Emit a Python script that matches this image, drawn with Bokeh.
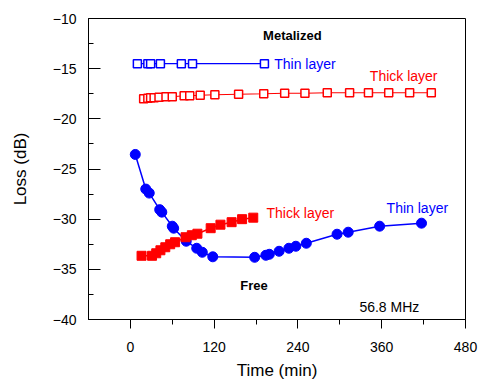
from bokeh.plotting import figure
from bokeh.models import Range1d, FixedTicker, Label
from bokeh.embed import file_html
from bokeh.resources import INLINE

# ---- data ----
met_thin_t = [10, 25, 29, 43, 73, 89, 192]
met_thin_v = [-14.5, -14.5, -14.5, -14.5, -14.5, -14.5, -14.5]

met_thick_t = [19, 25, 29, 34, 41, 51, 60, 77, 85, 100, 121, 155, 191,
               221, 250, 282, 314, 341, 370, 400, 431]
met_thick_v = [-18.0, -17.95, -17.9, -17.9, -17.85, -17.8, -17.8, -17.7, -17.7,
               -17.65, -17.6, -17.55, -17.5, -17.45, -17.45, -17.4, -17.4,
               -17.4, -17.4, -17.4, -17.4]

free_thin_t = [7, 22, 27, 42, 45, 60, 62, 80, 95, 103, 118, 178, 194, 199,
               213, 227, 237, 252, 296, 312, 357, 417]
free_thin_v = [-23.55, -27.0, -27.4, -29.05, -29.3, -30.7, -30.9, -32.2, -32.9,
               -33.3, -33.75, -33.8, -33.6, -33.5, -33.2, -32.9, -32.7, -32.4,
               -31.5, -31.3, -30.7, -30.4]

free_thick_t = [16, 31, 37, 43, 50, 57, 64, 79, 88, 96, 115, 129, 145, 160, 176]
free_thick_v = [-33.65, -33.65, -33.4, -33.1, -32.8, -32.5, -32.3, -31.8, -31.6,
                -31.45, -30.9, -30.55, -30.3, -30.0, -29.85]

x_ticks = [0, 120, 240, 360, 480]
x_minor = [60, 180, 300, 420]
y_ticks = [-40, -35, -30, -25, -20, -15, -10]
y_minor = [-37.5, -32.5, -27.5, -22.5, -17.5, -12.5]

BLUE = "#0000ff"
RED = "#ff0000"
FONT = "Liberation Sans"

p = figure(width=483, height=382, x_range=Range1d(-60, 480), y_range=Range1d(-40, -10),
           output_backend="svg", toolbar_location=None,
           min_border_left=88, min_border_right=18, min_border_top=18, min_border_bottom=60)
p.grid.visible = False
p.outline_line_color = "black"
p.outline_line_width = 1
p.background_fill_color = "white"
p.border_fill_color = "white"

# axes
p.xaxis.ticker = FixedTicker(ticks=x_ticks, minor_ticks=x_minor)
p.yaxis.ticker = FixedTicker(ticks=y_ticks, minor_ticks=y_minor)
p.xaxis.axis_label = "Time (min)"
p.yaxis.axis_label = "Loss (dB)"
for ax in (p.xaxis, p.yaxis):
    ax.axis_line_color = "black"
    ax.axis_line_width = 1
    ax.major_tick_line_color = "black"
    ax.minor_tick_line_color = "black"
    ax.major_label_text_font = FONT
    ax.major_label_text_font_size = "14px"
    ax.major_label_text_color = "black"
    ax.axis_label_text_font = FONT
    ax.axis_label_text_font_size = "17px"
    ax.axis_label_text_font_style = "normal"
    ax.axis_label_text_color = "black"

p.xaxis.major_tick_in = 0
p.xaxis.major_tick_out = 9
p.xaxis.minor_tick_in = 0
p.xaxis.minor_tick_out = 5
p.xaxis.major_label_standoff = 13
p.xaxis.axis_label_standoff = 6

p.yaxis.major_tick_in = 12
p.yaxis.major_tick_out = 0
p.yaxis.minor_tick_in = 5
p.yaxis.minor_tick_out = 0
p.yaxis.major_label_standoff = 12
p.yaxis.axis_label_standoff = 20

# metalized (open squares)
p.line(met_thin_t, met_thin_v, line_color=BLUE, line_width=1.2)
p.scatter(met_thin_t, met_thin_v, marker="square", size=8, fill_color="white",
          line_color=BLUE, line_width=1.5)
p.line(met_thick_t, met_thick_v, line_color=RED, line_width=1.2)
p.scatter(met_thick_t, met_thick_v, marker="square", size=8, fill_color="white",
          line_color=RED, line_width=1.5)

# free (filled)
p.line(free_thin_t, free_thin_v, line_color=BLUE, line_width=1.5)
p.scatter(free_thin_t, free_thin_v, marker="circle", size=10, fill_color=BLUE,
          line_color=BLUE, line_width=1)
p.line(free_thick_t, free_thick_v, line_color=RED, line_width=1.5)
p.scatter(free_thick_t, free_thick_v, marker="square", size=9, fill_color=RED,
          line_color=RED, line_width=1)

# annotations
def lab(x, y, text, color="black", bold=False, align="left"):
    p.add_layout(Label(x=x, y=y, text=text, text_color=color, text_font=FONT,
                       text_font_size="14px" if not bold else "13px",
                       text_font_style="bold" if bold else "normal",
                       text_align=align, text_baseline="middle"))

lab(232, -11.7, "Metalized", bold=True, align="center")
lab(206, -14.5, "Thin layer", color=BLUE)
lab(343, -15.7, "Thick layer", color=RED)
lab(195, -29.4, "Thick layer", color=RED)
lab(367, -28.9, "Thin layer", color=BLUE)
lab(177, -36.6, "Free", bold=True, align="center")
lab(328, -38.75, "56.8 MHz")

open("out.html", "w").write(file_html(p, INLINE))
